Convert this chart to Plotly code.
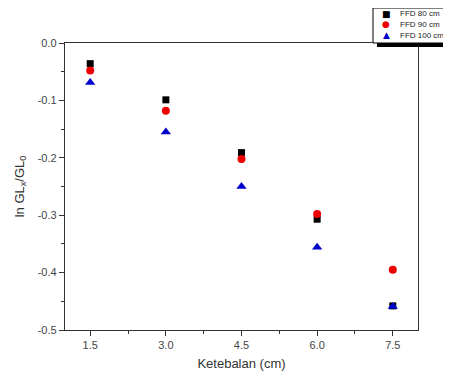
import plotly.graph_objects as go

thickness = [1.5, 3.0, 4.5, 6.0, 7.5]
ffd80 = [-0.036, -0.099, -0.191, -0.307, -0.458]
ffd90 = [-0.048, -0.118, -0.202, -0.298, -0.395]
ffd100 = [-0.069, -0.155, -0.250, -0.356, -0.459]
names = ["FFD 80 cm", "FFD 90 cm", "FFD 100 cm"]
x_ticks = [1.5, 3.0, 4.5, 6.0, 7.5]
x_ticktext = ["1.5", "3.0", "4.5", "6.0", "7.5"]
y_ticks = [0.0, -0.1, -0.2, -0.3, -0.4, -0.5]
y_ticktext = ["0.0", "-0.1", "-0.2", "-0.3", "-0.4", "-0.5"]

OFF = 8  # page body margin
W, H = 451 - OFF, 381 - OFF
L, R, T, B = 65 - OFF, 33, 43 - OFF, 51
pw, ph = W - L - R, H - T - B

colors = ["black", "#ee0000", "#0000cc"]
symbols = ["square", "circle", "triangle-up"]
sizes = [7, 8, 9]
glyphs = ["■", "●", "▲"]

fig = go.Figure()
for name, ys, c, s, sz in zip(names, [ffd80, ffd90, ffd100], colors, symbols, sizes):
    fig.add_trace(go.Scatter(x=thickness, y=ys, mode="markers", name=name,
                             marker=dict(symbol=s, size=sz, color=c)))

def px2paper(xp, yp):
    xp -= OFF
    yp -= OFF
    return (xp - L) / pw, (H - B - yp) / ph

# manual compact legend (box + shadow + entries)
lx0, ly0, lx1, ly1 = 373, 8, 446, 43
sx0, sy0 = px2paper(lx0 + 4, ly0 + 4)
sx1, sy1 = px2paper(lx1 + 4, ly1 + 4)
fig.add_shape(type="rect", xref="paper", yref="paper", x0=sx0, x1=sx1, y0=sy1, y1=sy0,
              fillcolor="black", line=dict(width=0), layer="above")
bx0, by0 = px2paper(lx0, ly0)
bx1, by1 = px2paper(lx1, ly1)
fig.add_shape(type="rect", xref="paper", yref="paper", x0=bx0, x1=bx1, y0=by1, y1=by0,
              fillcolor="white", line=dict(width=1, color="black"), layer="above")
row_y = [14, 24.5, 35]
for name, c, g, ry in zip(names, colors, glyphs, row_y):
    gx, gy = px2paper(386, ry)
    fig.add_annotation(x=gx, y=gy, xref="paper", yref="paper", text=g, showarrow=False,
                       xanchor="center", yanchor="middle",
                       font=dict(family="DejaVu Sans", size=9, color=c))
    tx, ty = px2paper(398, ry)
    fig.add_annotation(x=tx, y=ty, xref="paper", yref="paper", text=name, showarrow=False,
                       xanchor="left", yanchor="middle",
                       font=dict(family="Liberation Sans, Arial", size=8, color="#222"))

axis_common = dict(showline=True, linecolor="#333", linewidth=1.3, mirror=True,
                   ticks="outside", ticklen=5, tickwidth=1, tickcolor="#333",
                   showgrid=False, zeroline=False,
                   tickfont=dict(family="Liberation Sans, Arial", size=11, color="#444"))

fig.update_layout(
    width=W, height=H,
    margin=dict(l=L, r=R, t=T, b=B, autoexpand=False),
    paper_bgcolor="white", plot_bgcolor="white",
    showlegend=False,
    xaxis=dict(range=[1.0, 8.0], tickvals=x_ticks, ticktext=x_ticktext,
               minor=dict(ticks="outside", ticklen=3, tick0=0.75, dtick=0.75, tickcolor="#333"),
               title=dict(text="Ketebalan (cm)", standoff=8,
                          font=dict(family="Liberation Sans, Arial", size=13, color="#333")),
               **axis_common),
    yaxis=dict(range=[-0.5, 0.0], tickvals=y_ticks, ticktext=y_ticktext,
               minor=dict(ticks="outside", ticklen=3, tick0=0.05, dtick=0.1, tickcolor="#333"),
               title=dict(text="ln GL<sub>x</sub>/GL<sub>0</sub>", standoff=10,
                          font=dict(family="Liberation Sans, Arial", size=13, color="#333")),
               **axis_common),
)

fig.write_html("out.html")
